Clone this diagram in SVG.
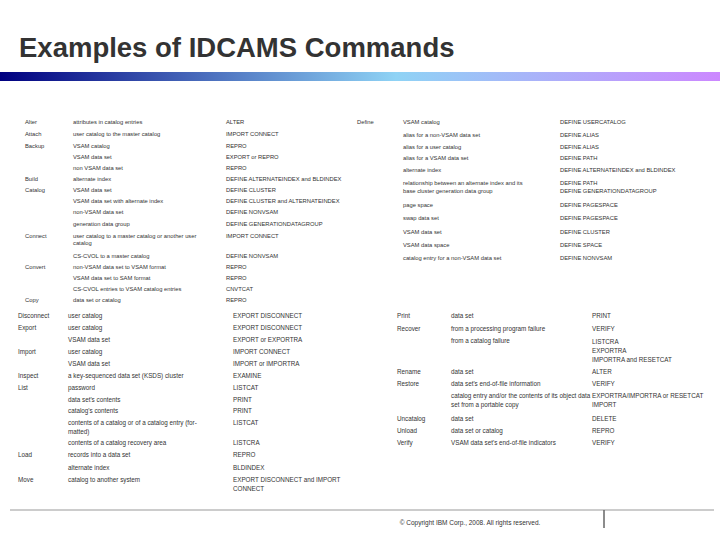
<svg xmlns="http://www.w3.org/2000/svg" width="720" height="540" viewBox="0 0 720 540">
<style>
text{font-family:"Liberation Sans",Arial,sans-serif;fill:#333}
.t{font-size:27.5px;font-weight:bold}
.s{font-size:5.8px}
.b{font-size:6.3px}
.f{font-size:6.5px}
</style>
<defs>
<linearGradient id="g" x1="0" x2="1" y1="0" y2="0">
<stop offset="0" stop-color="#000080"/>
<stop offset="0.55" stop-color="#8fd3f5"/>
<stop offset="1" stop-color="#cc88ff"/>
</linearGradient>
</defs>
<rect width="720" height="540" fill="#fff"/>
<text class="t" x="19" y="57">Examples of IDCAMS Commands</text>
<rect x="0" y="72" width="720" height="9" fill="url(#g)"/>
<g id="topleft" class="s">
<text x="25" y="124">Alter</text><text x="73" y="124">attributes in catalog entries</text><text x="226" y="124">ALTER</text>
<text x="25" y="136">Attach</text><text x="73" y="136">user catalog to the master catalog</text><text x="226" y="136">IMPORT CONNECT</text>
<text x="25" y="148">Backup</text><text x="73" y="148">VSAM catalog</text><text x="226" y="148">REPRO</text>
<text x="73" y="159">VSAM data set</text><text x="226" y="159">EXPORT or REPRO</text>
<text x="73" y="170">non VSAM data set</text><text x="226" y="170">REPRO</text>
<text x="25" y="181">Build</text><text x="73" y="181">alternate index</text><text x="226" y="181">DEFINE ALTERNATEINDEX and BLDINDEX</text>
<text x="25" y="192">Catalog</text><text x="73" y="192">VSAM data set</text><text x="226" y="192">DEFINE CLUSTER</text>
<text x="73" y="203">VSAM data set with alternate index</text><text x="226" y="203">DEFINE CLUSTER and ALTERNATEINDEX</text>
<text x="73" y="214">non-VSAM data set</text><text x="226" y="214">DEFINE NONVSAM</text>
<text x="73" y="226">generation data group</text><text x="226" y="226">DEFINE GENERATIONDATAGROUP</text>
<text x="25" y="238">Connect</text><text x="73" y="238">user catalog to a master catalog or another user</text><text x="226" y="238">IMPORT CONNECT</text>
<text x="73" y="245">catalog</text>
<text x="73" y="258">CS-CVOL to a master catalog</text><text x="226" y="258">DEFINE NONVSAM</text>
<text x="25" y="269">Convert</text><text x="73" y="269">non-VSAM data set to VSAM format</text><text x="226" y="269">REPRO</text>
<text x="73" y="280">VSAM data set to SAM format</text><text x="226" y="280">REPRO</text>
<text x="73" y="291">CS-CVOL entries to VSAM catalog entries</text><text x="226" y="291">CNVTCAT</text>
<text x="25" y="302">Copy</text><text x="73" y="302">data set or catalog</text><text x="226" y="302">REPRO</text>
</g>
<g id="topright" class="s">
<text x="357" y="124">Define</text><text x="403" y="124">VSAM catalog</text><text x="560" y="124">DEFINE USERCATALOG</text>
<text x="403" y="137">alias for a non-VSAM data set</text><text x="560" y="137">DEFINE ALIAS</text>
<text x="403" y="149">alias for a user catalog</text><text x="560" y="149">DEFINE ALIAS</text>
<text x="403" y="160">alias for a VSAM data set</text><text x="560" y="160">DEFINE PATH</text>
<text x="403" y="172">alternate index</text><text x="560" y="172">DEFINE ALTERNATEINDEX and BLDINDEX</text>
<text x="403" y="185">relationship between an alternate index and its</text><text x="560" y="185">DEFINE PATH</text>
<text x="403" y="193">base cluster generation data group</text><text x="560" y="193">DEFINE GENERATIONDATAGROUP</text>
<text x="403" y="207">page space</text><text x="560" y="207">DEFINE PAGESPACE</text>
<text x="403" y="220">swap data set</text><text x="560" y="220">DEFINE PAGESPACE</text>
<text x="403" y="234">VSAM data set</text><text x="560" y="234">DEFINE CLUSTER</text>
<text x="403" y="247">VSAM data space</text><text x="560" y="247">DEFINE SPACE</text>
<text x="403" y="260">catalog entry for a non-VSAM data set</text><text x="560" y="260">DEFINE NONVSAM</text>
</g>
<g id="bottomleft" class="b">
<text x="18" y="318">Disconnect</text><text x="68" y="318">user catalog</text><text x="233" y="318">EXPORT DISCONNECT</text>
<text x="18" y="330">Export</text><text x="68" y="330">user catalog</text><text x="233" y="330">EXPORT DISCONNECT</text>
<text x="68" y="342">VSAM data set</text><text x="233" y="342">EXPORT or EXPORTRA</text>
<text x="18" y="354">Import</text><text x="68" y="354">user catalog</text><text x="233" y="354">IMPORT CONNECT</text>
<text x="68" y="366">VSAM data set</text><text x="233" y="366">IMPORT or IMPORTRA</text>
<text x="18" y="378">Inspect</text><text x="68" y="378">a key-sequenced data set (KSDS) cluster</text><text x="233" y="378">EXAMINE</text>
<text x="18" y="390">List</text><text x="68" y="390">password</text><text x="233" y="390">LISTCAT</text>
<text x="68" y="402">data set's contents</text><text x="233" y="402">PRINT</text>
<text x="68" y="413">catalog's contents</text><text x="233" y="413">PRINT</text>
<text x="68" y="425">contents of a catalog or of a catalog entry (for-</text><text x="233" y="425">LISTCAT</text>
<text x="68" y="434">matted)</text>
<text x="68" y="445">contents of a catalog recovery area</text><text x="233" y="445">LISTCRA</text>
<text x="18" y="457">Load</text><text x="68" y="457">records into a data set</text><text x="233" y="457">REPRO</text>
<text x="68" y="470">alternate index</text><text x="233" y="470">BLDINDEX</text>
<text x="18" y="482">Move</text><text x="68" y="482">catalog to another system</text><text x="233" y="482">EXPORT DISCONNECT and IMPORT</text>
<text x="233" y="491">CONNECT</text>
</g>
<g id="bottomright" class="b">
<text x="397" y="318">Print</text><text x="451" y="318">data set</text><text x="592" y="318">PRINT</text>
<text x="397" y="331">Recover</text><text x="451" y="331">from a processing program failure</text><text x="592" y="331">VERIFY</text>
<text x="451" y="343">from a catalog failure</text><text x="592" y="344">LISTCRA</text>
<text x="592" y="353">EXPORTRA</text>
<text x="592" y="362">IMPORTRA and RESETCAT</text>
<text x="397" y="374">Rename</text><text x="451" y="374">data set</text><text x="592" y="374">ALTER</text>
<text x="397" y="386">Restore</text><text x="451" y="386">data set's end-of-file information</text><text x="592" y="386">VERIFY</text>
<text x="451" y="398">catalog entry and/or the contents of its object data</text><text x="592" y="398">EXPORTRA/IMPORTRA or RESETCAT</text>
<text x="451" y="407">set from a portable copy</text><text x="592" y="407">IMPORT</text>
<text x="397" y="421">Uncatalog</text><text x="451" y="421">data set</text><text x="592" y="421">DELETE</text>
<text x="397" y="433">Unload</text><text x="451" y="433">data set or catalog</text><text x="592" y="433">REPRO</text>
<text x="397" y="445">Verify</text><text x="451" y="445">VSAM data set's end-of-file indicators</text><text x="592" y="445">VERIFY</text>
</g>
<g id="footer">
<line x1="10" y1="510" x2="714" y2="510" stroke="#999" stroke-width="1"/>
<line x1="604" y1="510" x2="604" y2="528" stroke="#666" stroke-width="1.5"/>
<text class="f" x="470" y="525" text-anchor="middle">© Copyright IBM Corp., 2008. All rights reserved.</text>
</g>
</svg>
